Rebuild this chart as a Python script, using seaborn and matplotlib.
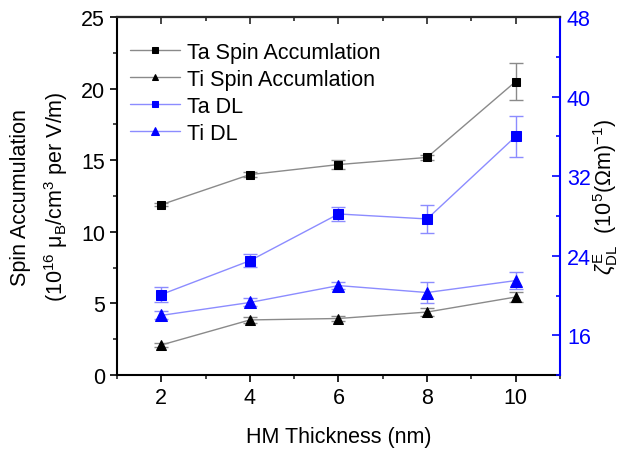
import matplotlib
matplotlib.use("Agg")
import matplotlib.pyplot as plt
from matplotlib.ticker import MultipleLocator
import pandas as pd
import seaborn as sns

# HM thickness (nm)
thickness = [2, 4, 6, 8, 10]

# spin accumulation, left axis (10^16 muB/cm^3 per V/m)
ta_spin = [11.9, 14.0, 14.7, 15.2, 20.5]
ta_spin_err = [0.1, 0.2, 0.3, 0.2, 1.3]
ti_spin = [2.1, 3.85, 3.95, 4.4, 5.45]
ti_spin_err = [0.15, 0.2, 0.2, 0.3, 0.35]

# damping-like efficiency, right axis (10^5 (Ohm m)^-1)
ta_dl = [20.1, 23.5, 28.2, 27.7, 36.0]
ta_dl_err = [0.75, 0.65, 0.7, 1.45, 2.05]
ti_dl = [18.0, 19.3, 21.0, 20.3, 21.5]
ti_dl_err = [0.4, 0.4, 0.35, 1.1, 0.85]

sns.set_style("ticks")
plt.rcParams["font.family"] = ["Liberation Sans", "DejaVu Sans"]
plt.rcParams["mathtext.fontset"] = "custom"
plt.rcParams["mathtext.rm"] = "Liberation Sans"
plt.rcParams["mathtext.it"] = "Liberation Sans:italic"
plt.rcParams["mathtext.bf"] = "Liberation Sans:bold"
plt.rcParams["text.color"] = "black"
plt.rcParams["axes.labelcolor"] = "black"

FS = 15.5

fig, ax = plt.subplots(figsize=(6.28, 4.52), dpi=100)
fig.subplots_adjust(left=0.1863, right=0.8917, bottom=0.168, top=0.960)
ax2 = ax.twinx()

gray = "#8a8a8a"
lblue = "#8c8cff"


def draw(axis, y, err, label, line_c, mark_c, marker, ms):
    df = pd.DataFrame({"t": thickness, "v": y})
    axis.errorbar(thickness, y, yerr=err, fmt="none", ecolor=line_c,
                  elinewidth=1, capsize=5, capthick=1, zorder=2)
    sns.lineplot(data=df, x="t", y="v", ax=axis, color=line_c, lw=1,
                 marker=marker, markersize=ms, markerfacecolor=mark_c,
                 markeredgecolor=mark_c, label=label, zorder=3)


draw(ax, ta_spin, ta_spin_err, "Ta Spin Accumlation", gray, "black", "s", 6)
draw(ax, ti_spin, ti_spin_err, "Ti Spin Accumlation", gray, "black", "^", 7)
draw(ax2, ta_dl, ta_dl_err, "Ta DL", lblue, "blue", "s", 6.5)
draw(ax2, ti_dl, ti_dl_err, "Ti DL", lblue, "blue", "^", 8.5)

ax.set_xlim(1, 11)
ax.set_ylim(0, 25)
ax2.set_ylim(12, 48)

ax.xaxis.set_major_locator(MultipleLocator(2))
ax.xaxis.set_minor_locator(MultipleLocator(1))
ax.yaxis.set_major_locator(MultipleLocator(5))
ax.yaxis.set_minor_locator(MultipleLocator(2.5))
ax2.set_yticks([16, 24, 32, 40, 48])
ax2.yaxis.set_minor_locator(MultipleLocator(4))

ax.tick_params(axis="both", which="major", direction="out", length=5,
               width=1.2, labelsize=FS, colors="black")
ax.tick_params(axis="both", which="minor", direction="out", length=3, width=1.2)

top = ax.secondary_xaxis("top")
top.xaxis.set_major_locator(MultipleLocator(2))
top.xaxis.set_minor_locator(MultipleLocator(1))
top.tick_params(which="major", direction="in", length=5, width=1.2, labeltop=False)
top.tick_params(which="minor", direction="in", length=3, width=1.2)
top.spines["top"].set_linewidth(1.5)

ax2.tick_params(axis="y", which="major", direction="in", length=6, width=1.2,
                colors="blue", labelsize=FS, pad=5)
ax2.tick_params(axis="y", which="minor", direction="in", length=3, width=1.2,
                colors="blue")

for s in ["left", "bottom", "top"]:
    ax.spines[s].set_linewidth(1.5)
    ax.spines[s].set_color("black")
ax.spines["right"].set_visible(False)
ax2.spines["right"].set_color("blue")
ax2.spines["right"].set_linewidth(1.5)
ax2.spines["left"].set_visible(False)
ax2.spines["top"].set_linewidth(1.5)
ax2.spines["bottom"].set_visible(False)

ax.set_xlabel("HM Thickness (nm)", fontsize=FS, labelpad=13)
ax.set_ylabel("Spin Accumulation\n(10$^{16}$ \u03bc$_\\mathrm{B}$/cm$^3$ per V/m)",
              fontsize=FS, labelpad=8, linespacing=1.55)
ax2.set_ylabel(r"$\zeta^{\mathrm{E}}_{\mathrm{DL}}$  (10$^5$($\Omega$m)$^{-1}$)",
               fontsize=FS, labelpad=0, color="black")

h1, l1 = ax.get_legend_handles_labels()
h2, l2 = ax2.get_legend_handles_labels()
ax.get_legend().remove()
ax2.get_legend().remove()
ax2.legend(h1 + h2, l1 + l2, loc="upper left", frameon=False, fontsize=FS,
           handlelength=2.3, handletextpad=0.35, labelspacing=0.28,
           markerscale=0.65, borderaxespad=0.0,
           bbox_to_anchor=(0.01, 0.955))

fig.savefig("out.png", dpi=100)
